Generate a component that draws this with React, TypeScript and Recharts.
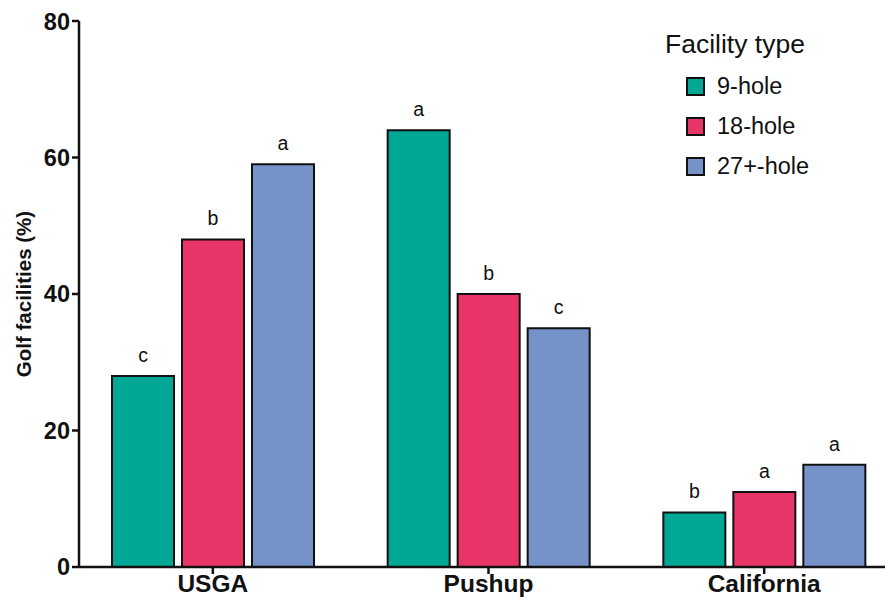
import { BarChart, Bar, XAxis, YAxis, LabelList, Legend } from "recharts";

const sites = ["USGA", "Pushup", "California"];
const hole9 = [28, 64, 8];
const hole18 = [48, 40, 11];
const hole27 = [59, 35, 15];
const letters9 = ["c", "a", "b"];
const letters18 = ["b", "b", "a"];
const letters27 = ["a", "c", "a"];
const yTicks = [0, 20, 40, 60, 80];

const series = [
  { key: "h9", name: "9-hole", color: "#00a795", letters: letters9 },
  { key: "h18", name: "18-hole", color: "#e83467", letters: letters18 },
  { key: "h27", name: "27+-hole", color: "#7593c8", letters: letters27 },
];

const data = sites.map((site, i) => ({
  site,
  h9: hole9[i],
  h18: hole18[i],
  h27: hole27[i],
}));

const FONT = "'Liberation Sans', Arial, Helvetica, sans-serif";

function LegendBox() {
  return (
    <div style={{ fontFamily: FONT, color: "#111" }}>
      <div style={{ fontSize: 26.5, lineHeight: "30px", marginBottom: 7 }}>Facility type</div>
      {series.map((s) => (
        <div
          key={s.key}
          style={{ display: "flex", alignItems: "center", height: 40, paddingLeft: 21 }}
        >
          <span
            style={{
              width: 15,
              height: 15,
              background: s.color,
              border: "2px solid #111",
              marginRight: 12,
            }}
          />
          <span style={{ fontSize: 23.5 }}>{s.name}</span>
        </div>
      ))}
    </div>
  );
}

export default function App() {
  return (
    <div style={{ width: 885, height: 594, overflow: "hidden" }}>
      <BarChart
        width={894}
        height={594}
        data={data}
        margin={{ top: 13, right: 0, bottom: 0, left: 0 }}
        barSize={62}
        barGap={8}
      >
        <XAxis
          dataKey="site"
          height={35}
          padding={{ left: -4, right: 0 }}
          axisLine={{ stroke: "#111", strokeWidth: 2.5 }}
          tickLine={{ stroke: "#111", strokeWidth: 2.5 }}
          tickSize={7}
          tickMargin={1}
          tick={{ fill: "#111", fontSize: 24.5, fontWeight: 700, fontFamily: FONT }}
        />
        <YAxis
          width={71}
          domain={[0, 80]}
          ticks={yTicks}
          axisLine={{ stroke: "#111", strokeWidth: 2.5 }}
          tickLine={{ stroke: "#111", strokeWidth: 2.5 }}
          tickSize={7}
          tickMargin={2}
          tick={{ fill: "#111", fontSize: 23.5, fontWeight: 700, fontFamily: FONT }}
          label={{
            value: "Golf facilities (%)",
            angle: -90,
            position: "insideLeft",
            offset: 16,
            style: {
              textAnchor: "middle",
              fill: "#111",
              fontSize: 20.5,
              fontWeight: 700,
              fontFamily: FONT,
            },
          }}
        />
        <Legend
          layout="horizontal"
          verticalAlign="middle"
          align="center"
          content={() => <LegendBox />}
          wrapperStyle={{ top: 21, left: 657, width: 200 }}
        />
        {series.map((s) => (
          <Bar
            key={s.key}
            dataKey={s.key}
            name={s.name}
            fill={s.color}
            stroke="#111"
            strokeWidth={2}
            isAnimationActive={false}
          >
            <LabelList
              dataKey={s.key}
              content={(props: any) => {
                const { x, y, width, index } = props;
                return (
                  <text
                    x={x + width / 2}
                    y={y - 14}
                    textAnchor="middle"
                    fill="#111"
                    fontSize={19.5}
                    fontFamily={FONT}
                  >
                    {s.letters[index]}
                  </text>
                );
              }}
            />
          </Bar>
        ))}
      </BarChart>
    </div>
  );
}
